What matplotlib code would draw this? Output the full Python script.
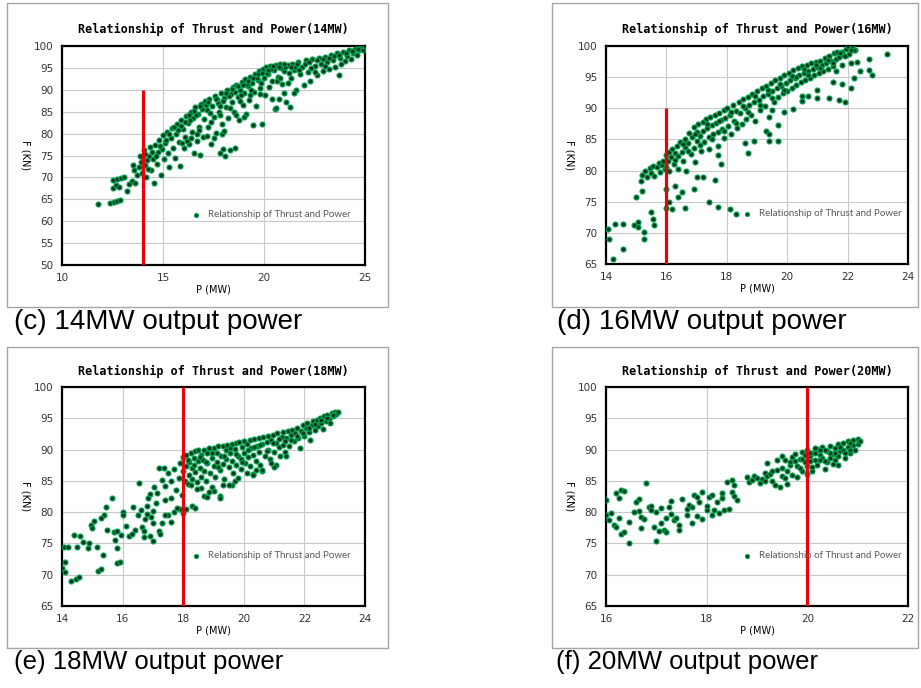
import matplotlib.pyplot as plt
import matplotlib.patches as mpatches
import numpy as np

# ---- data (P in MW, F in kN) ----
pts_14 = [
    (11.8, 64.0), (12.4, 64.2), (12.55, 64.4), (12.7, 64.6), (12.85, 64.9), (12.5, 67.6), (12.65, 68.2), (12.8, 67.8),
    (12.5, 69.3), (12.7, 69.6), (12.9, 69.9), (13.05, 70.0), (13.2, 67.0), (13.3, 68.4), (13.45, 69.2), (13.6, 68.8),
    (13.5, 72.9), (13.55, 71.6), (13.7, 70.5), (13.8, 72.4), (13.9, 73.6), (13.95, 71.0), (14.0, 74.5), (14.05, 76.2),
    (14.1, 72.8), (14.15, 70.2), (14.2, 73.9), (14.3, 75.0), (14.35, 76.9), (14.4, 71.7), (14.5, 74.2), (14.55, 68.8),
    (14.6, 77.5), (14.7, 73.1), (14.75, 75.8), (14.8, 78.6), (14.9, 70.6), (14.95, 76.5), (15.0, 79.6), (15.05, 74.3),
    (15.1, 77.8), (15.2, 80.4), (15.25, 75.5), (15.3, 72.3), (15.4, 78.9), (15.45, 81.2), (15.5, 76.8), (15.6, 74.4),
    (15.65, 80.0), (15.7, 82.1), (15.8, 78.0), (15.85, 72.6), (15.9, 83.0), (16.0, 81.0), (16.05, 76.6), (16.1, 79.3),
    (16.15, 84.0), (16.25, 82.5), (16.3, 77.7), (16.4, 85.0), (16.45, 80.4), (16.5, 83.6), (16.55, 75.6), (16.6, 86.0),
    (16.7, 78.3), (16.75, 84.5), (16.8, 81.6), (16.85, 75.2), (16.9, 86.8), (17.0, 79.2), (17.05, 83.3), (17.1, 87.4),
    (17.2, 85.3), (17.25, 81.5), (17.3, 88.0), (17.4, 77.6), (17.45, 86.2), (17.5, 83.7), (17.55, 88.6), (17.6, 80.2),
    (17.7, 87.0), (17.75, 85.0), (17.8, 75.5), (17.85, 89.3), (17.9, 82.3), (17.95, 76.4), (18.0, 88.2), (18.05, 74.9),
    (18.1, 86.0), (18.15, 90.0), (18.2, 83.6), (18.3, 76.3), (18.35, 89.0), (18.4, 87.2), (18.45, 90.7), (18.5, 85.0),
    (18.55, 76.7), (18.6, 91.2), (18.7, 88.3), (18.75, 83.2), (18.8, 90.0), (18.9, 91.8), (18.95, 86.5), (19.0, 89.2),
    (19.05, 92.4), (19.1, 84.5), (19.2, 90.8), (19.25, 87.7), (19.3, 93.0), (19.4, 91.5), (19.45, 82.0), (19.5, 89.6),
    (19.55, 93.6), (19.6, 86.4), (19.7, 92.2), (19.75, 94.2), (19.8, 90.3), (19.9, 82.3), (19.95, 94.7), (20.0, 92.8),
    (20.05, 88.8), (20.1, 95.1), (20.2, 93.5), (20.25, 90.6), (20.3, 95.4), (20.4, 91.9), (20.5, 94.5), (20.55, 85.7),
    (20.6, 95.7), (20.7, 93.0), (20.75, 87.8), (20.8, 95.9), (20.9, 91.3), (21.0, 94.2), (21.1, 87.2), (21.2, 95.6),
    (21.3, 86.0), (21.35, 92.7), (21.4, 96.0), (21.5, 94.6), (21.6, 90.0), (21.7, 96.4), (21.8, 93.5), (21.9, 95.3),
    (22.0, 91.2), (22.1, 96.8), (22.2, 94.0), (22.3, 92.0), (22.4, 97.0), (22.5, 95.4), (22.6, 93.4), (22.7, 97.3),
    (22.8, 95.9), (22.9, 94.2), (23.0, 97.6), (23.1, 96.3), (23.2, 94.8), (23.3, 98.0), (23.4, 96.8), (23.5, 95.2),
    (23.6, 98.3), (23.7, 93.3), (23.75, 97.2), (23.8, 95.8), (23.9, 98.6), (24.0, 96.6), (24.1, 97.8), (24.2, 99.0),
    (24.3, 97.0), (24.4, 98.3), (24.5, 99.3), (24.6, 97.9), (24.7, 99.0), (24.8, 99.6), (24.9, 99.2), (25.0, 100.0),
    (15.3, 80.0), (15.55, 81.5), (15.75, 80.8), (16.1, 82.6), (16.35, 83.2), (16.65, 84.3), (16.95, 85.6), (17.15, 86.5),
    (17.35, 84.6), (17.65, 88.0), (17.95, 87.4), (18.25, 88.6), (18.55, 89.4), (18.85, 88.7), (19.15, 91.3), (19.35, 89.9),
    (19.65, 92.8), (19.85, 91.6), (20.15, 93.9), (20.35, 94.7), (20.65, 92.1), (20.85, 94.9), (21.05, 95.3), (21.25, 93.8),
    (21.55, 95.1), (21.75, 94.6), (22.05, 96.0), (22.35, 95.0), (14.45, 75.9), (14.65, 74.9), (14.85, 77.2), (15.15, 78.5),
    (14.25, 72.0), (13.85, 74.8), (14.1, 75.3), (16.2, 78.2), (16.7, 80.0), (17.2, 79.5), (17.5, 79.0), (17.9, 79.8),
    (18.0, 80.5), (18.6, 84.3), (19.0, 83.7), (20.4, 88.0), (21.0, 89.2), (20.6, 85.8), (21.5, 89.3),
    (15.9, 81.8), (16.3, 84.2), (16.55, 85.2), (16.85, 86.2), (17.25, 87.2), (17.6, 87.8), (17.8, 86.4), (18.1, 89.2),
    (18.4, 90.1), (18.7, 90.8), (18.95, 91.0), (19.2, 92.1), (19.45, 92.7), (19.7, 93.5), (19.9, 93.9), (20.2, 94.6),
    (20.45, 95.4), (20.75, 95.2), (21.0, 95.8), (21.35, 95.2), (21.65, 96.0), (22.25, 96.3), (22.6, 96.7), (22.9, 97.0),
    (23.2, 97.3), (23.45, 97.8), (23.7, 98.0), (24.05, 98.3), (24.35, 98.8), (24.65, 99.4), (17.4, 82.6), (17.8, 84.2),
    (18.3, 85.8), (18.8, 87.4), (19.3, 88.7), (19.8, 89.0), (16.8, 80.8), (16.4, 79.0), (15.95, 77.8), (20.8, 92.8),
    (21.2, 91.5), (22.5, 94.0), (23.0, 95.5),
]

pts_16 = [
    (14.08, 70.6), (14.1, 69.0), (14.24, 65.8), (14.3, 71.5), (14.57, 71.5), (14.55, 67.4), (14.94, 71.2), (15.07, 71.7),
    (15.05, 71.0), (15.26, 70.2), (15.26, 69.0), (15.48, 73.3), (15.55, 72.3), (15.6, 71.3), (15.0, 75.7), (15.2, 76.8),
    (15.15, 78.3), (15.2, 79.3), (15.3, 79.9), (15.35, 79.0), (15.45, 80.4), (15.5, 79.6), (15.55, 80.8), (15.6, 79.2),
    (15.7, 80.6), (15.75, 81.2), (15.8, 79.8), (15.85, 80.9), (15.9, 81.5), (15.95, 80.2), (16.0, 82.5), (16.0, 80.6),
    (16.05, 81.6), (16.1, 83.0), (16.1, 80.0), (16.15, 82.1), (16.2, 83.4), (16.25, 81.0), (16.3, 82.8), (16.35, 84.0),
    (16.4, 80.3), (16.4, 82.4), (16.45, 84.6), (16.5, 83.0), (16.55, 81.5), (16.6, 85.1), (16.6, 83.8), (16.65, 80.0),
    (16.7, 84.5), (16.75, 86.0), (16.8, 82.6), (16.85, 85.4), (16.9, 87.0), (16.9, 83.6), (16.95, 81.4), (17.0, 86.2),
    (17.0, 84.8), (17.05, 87.5), (17.1, 85.6), (17.15, 83.2), (17.2, 87.8), (17.2, 86.3), (17.25, 84.6), (17.3, 88.2),
    (17.35, 86.9), (17.4, 85.4), (17.4, 83.5), (17.45, 88.6), (17.5, 87.3), (17.55, 85.9), (17.6, 88.9), (17.65, 87.6),
    (17.7, 86.2), (17.7, 84.0), (17.75, 89.3), (17.8, 88.1), (17.85, 86.7), (17.9, 89.8), (17.9, 85.2), (17.95, 88.5),
    (18.0, 90.1), (18.05, 87.2), (18.1, 89.0), (18.15, 85.8), (18.2, 90.5), (18.25, 88.0), (18.3, 89.6), (18.35, 86.8),
    (18.4, 91.0), (18.45, 89.2), (18.5, 87.5), (18.55, 91.5), (18.6, 90.0), (18.65, 88.3), (18.7, 91.8), (18.75, 90.6),
    (18.8, 89.0), (18.85, 92.3), (18.9, 91.0), (18.95, 88.0), (19.0, 92.7), (19.05, 91.4), (19.1, 89.8), (19.15, 93.2),
    (19.2, 91.9), (19.25, 90.4), (19.3, 93.6), (19.35, 92.3), (19.4, 88.6), (19.45, 94.0), (19.5, 92.8), (19.55, 91.0),
    (19.6, 94.5), (19.65, 93.3), (19.7, 91.8), (19.75, 94.9), (19.8, 93.6), (19.85, 92.4), (19.9, 95.3), (19.95, 94.0),
    (20.0, 92.7), (20.05, 95.7), (20.1, 94.5), (20.15, 93.3), (20.2, 96.1), (20.25, 94.9), (20.3, 93.8), (20.35, 96.5),
    (20.4, 95.3), (20.45, 94.2), (20.5, 96.8), (20.55, 95.7), (20.6, 94.6), (20.65, 97.0), (20.7, 96.0), (20.75, 94.9),
    (20.8, 97.3), (20.85, 96.3), (20.9, 95.4), (20.95, 97.5), (21.0, 96.6), (21.05, 95.7), (21.1, 97.6), (21.15, 96.9),
    (21.2, 96.0), (21.25, 98.0), (21.3, 97.2), (21.35, 96.3), (21.4, 98.4), (21.45, 97.6), (21.5, 96.8), (21.55, 98.8),
    (21.6, 97.9), (21.65, 99.1), (21.7, 98.3), (21.8, 99.0), (21.85, 98.5), (21.95, 99.5), (22.0, 100.0), (22.05, 98.7),
    (22.15, 99.8), (22.25, 99.4),
    (16.0, 77.0), (16.1, 75.0), (16.0, 74.0), (16.2, 73.8), (16.3, 77.5), (16.4, 75.7), (16.6, 74.0), (16.5, 76.5),
    (16.9, 77.0), (17.0, 79.0), (17.2, 79.0), (17.6, 78.5), (17.8, 81.0), (17.7, 82.5), (17.4, 75.0), (17.7, 74.2),
    (18.1, 73.9), (18.3, 73.1), (18.6, 84.5), (18.7, 82.8), (18.9, 84.8), (19.4, 84.8), (19.7, 84.8), (19.3, 86.3),
    (19.4, 85.8), (19.7, 87.3), (19.5, 89.8), (19.9, 89.4), (20.2, 89.9), (20.5, 91.1), (20.5, 92.0), (20.7, 92.0),
    (21.0, 91.7), (21.4, 91.6), (21.7, 91.3), (21.9, 91.0), (21.0, 92.9), (21.5, 94.2), (21.8, 93.9), (22.1, 93.3),
    (22.2, 94.8), (22.1, 97.3), (22.4, 96.0), (22.7, 97.9), (22.7, 96.1), (22.8, 95.3), (23.3, 98.7), (22.2, 99.3),
    (22.3, 97.5), (21.8, 97.0), (21.6, 96.0),
    (16.3, 81.7), (16.7, 83.1), (17.1, 84.1), (17.5, 85.0), (17.9, 86.4), (18.3, 87.6), (18.7, 89.4), (19.1, 90.5),
    (19.5, 91.7), (19.9, 93.0), (20.3, 95.0), (20.7, 95.4), (21.1, 96.4), (21.5, 97.3), (21.9, 98.4), (16.55, 84.2),
    (16.95, 85.9), (17.35, 87.5), (17.75, 88.0), (18.15, 89.4), (18.55, 90.4), (18.95, 91.9), (19.35, 93.0), (19.75, 93.9),
    (20.15, 95.2), (20.55, 96.3), (20.95, 96.9), (21.35, 97.8), (21.75, 98.9), (22.1, 99.3),
]

pts_18 = [
    (14.05, 74.5), (14.1, 72.0), (14.0, 71.0), (14.1, 70.5), (14.3, 69.0), (14.45, 69.3), (14.55, 69.6), (14.2, 74.4),
    (14.4, 76.3), (14.6, 76.2), (14.5, 74.5), (14.7, 75.3), (14.85, 74.3), (14.9, 75.0), (14.95, 78.0), (15.0, 77.5),
    (15.05, 78.6), (15.15, 74.5), (15.2, 70.6), (15.3, 70.9), (15.35, 73.1), (15.4, 79.5), (15.45, 80.9), (15.3, 79.0),
    (15.5, 77.2), (15.7, 76.8), (15.65, 82.3), (15.75, 75.5), (15.8, 77.0), (15.8, 74.3), (15.8, 71.9), (15.9, 72.0),
    (15.95, 76.3), (16.0, 80.0), (16.0, 79.5), (16.1, 77.8), (16.2, 76.2), (16.3, 76.5), (16.35, 80.9), (16.4, 77.1),
    (16.5, 79.6), (16.55, 84.6), (16.6, 80.3), (16.65, 77.7), (16.7, 76.1), (16.75, 78.9), (16.8, 81.0), (16.85, 82.3),
    (16.9, 76.2), (16.95, 79.3), (17.0, 75.4), (17.0, 78.2), (17.1, 81.5), (17.05, 84.0), (17.15, 83.0), (17.2, 77.0),
    (17.25, 76.5), (17.3, 85.2), (17.35, 87.0), (17.4, 84.2), (17.4, 82.0), (17.5, 79.5), (17.5, 86.3), (17.6, 84.9),
    (17.6, 78.5), (17.7, 80.0), (17.7, 86.9), (17.75, 83.5), (17.85, 85.4), (17.9, 87.8), (17.95, 82.7), (17.2, 87.0),
    (17.0, 80.2), (16.9, 82.9), (16.8, 79.7), (16.7, 77.0), (17.3, 78.2), (17.4, 79.5), (17.6, 82.2),
    (18.0, 88.8), (18.0, 86.5), (18.05, 85.0), (18.1, 89.2), (18.1, 87.4), (18.15, 84.5), (18.2, 88.0), (18.2, 86.0),
    (18.25, 89.5), (18.3, 87.0), (18.3, 85.3), (18.35, 88.6), (18.4, 89.7), (18.4, 86.4), (18.45, 84.8), (18.5, 88.1),
    (18.5, 89.9), (18.55, 87.0), (18.6, 85.6), (18.6, 89.2), (18.65, 88.3), (18.7, 90.0), (18.7, 86.6), (18.75, 85.0),
    (18.8, 89.4), (18.8, 87.8), (18.85, 90.2), (18.9, 86.2), (18.95, 88.6), (19.0, 90.3), (19.0, 87.4), (19.05, 85.6),
    (19.1, 89.5), (19.1, 88.0), (19.15, 90.5), (19.2, 86.8), (19.25, 89.0), (19.3, 90.6), (19.3, 87.7), (19.35, 85.3),
    (19.4, 89.9), (19.4, 88.5), (19.45, 90.8), (19.5, 87.2), (19.55, 89.4), (19.6, 90.9), (19.6, 88.2), (19.65, 86.2),
    (19.7, 90.1), (19.75, 91.0), (19.75, 87.6), (19.8, 89.0), (19.85, 91.2), (19.9, 88.5), (19.9, 86.9), (19.95, 90.4),
    (20.0, 91.3), (20.0, 89.5), (20.05, 87.9), (20.1, 90.9), (20.15, 88.8), (20.2, 91.5), (20.2, 87.3), (20.25, 90.2),
    (20.3, 89.1), (20.35, 91.7), (20.4, 88.2), (20.45, 90.6), (20.5, 91.8), (20.5, 89.6), (20.55, 87.6), (20.6, 90.9),
    (20.65, 92.0), (20.7, 88.9), (20.75, 91.2), (20.8, 92.2), (20.8, 90.0), (20.85, 88.5), (20.9, 91.5), (20.95, 92.4),
    (21.0, 89.6), (21.05, 91.0), (21.1, 92.6), (21.15, 90.4), (21.2, 88.9), (21.25, 92.0), (21.3, 92.8), (21.3, 90.8),
    (21.35, 89.6), (21.4, 91.9), (21.45, 93.0), (21.5, 90.5), (21.55, 92.4), (21.6, 93.2), (21.65, 91.3), (21.7, 92.7),
    (21.75, 93.5), (21.8, 91.8), (21.85, 90.3), (21.9, 93.0), (21.95, 93.9), (22.0, 92.2), (22.05, 93.5), (22.1, 94.2),
    (22.15, 92.8), (22.2, 91.6), (22.25, 94.0), (22.3, 94.5), (22.35, 93.2), (22.4, 94.8), (22.45, 93.8), (22.5, 95.0),
    (22.55, 94.2), (22.6, 93.3), (22.65, 95.3), (22.7, 94.6), (22.75, 95.6), (22.8, 94.9), (22.85, 94.2), (22.9, 95.8),
    (22.95, 95.3), (23.0, 96.0), (23.05, 95.7), (23.1, 96.0), (20.6, 86.5), (20.3, 86.1), (20.4, 86.8), (21.05, 87.6),
    (19.3, 84.3), (19.2, 82.6), (18.85, 83.2), (18.7, 82.6), (18.95, 84.0), (19.6, 84.4), (19.7, 85.0), (21.4, 89.0),
    (18.6, 83.8), (18.8, 82.5), (19.2, 82.3), (19.5, 84.4), (20.3, 86.0), (20.6, 86.8), (21.0, 87.2), (19.0, 83.3),
    (18.3, 81.0), (18.1, 80.5), (17.9, 80.5), (18.0, 79.9), (18.4, 80.6), (17.8, 80.7),
    (18.15, 88.3), (18.35, 87.5), (18.55, 88.8), (18.75, 88.0), (18.95, 89.5), (19.15, 87.2), (19.35, 89.0), (19.55, 90.2),
    (19.75, 89.3), (19.95, 88.0), (20.15, 90.0), (20.35, 90.4), (20.55, 90.7), (20.75, 89.8), (20.95, 91.0), (21.15, 91.7),
    (21.35, 91.3), (21.55, 91.6), (21.75, 92.2), (21.95, 92.6), (22.15, 93.5), (22.35, 94.1), (22.55, 94.7), (22.75, 95.0),
    (22.95, 95.6), (18.25, 84.4), (18.45, 83.7), (19.8, 85.5), (20.1, 86.2), (20.9, 87.9),
]

pts_20 = [
    (16.0, 82.0), (16.0, 79.6), (16.05, 78.8), (16.1, 79.9), (16.15, 78.0), (16.2, 77.6), (16.2, 83.1), (16.25, 82.3),
    (16.3, 83.6), (16.35, 83.4), (16.25, 79.0), (16.3, 76.5), (16.35, 76.8), (16.45, 75.0), (16.45, 78.5), (16.65, 82.1),
    (16.65, 80.2), (16.7, 79.3), (16.7, 77.4), (16.75, 78.9), (16.8, 84.7), (16.85, 80.8), (16.9, 81.0), (16.9, 80.4),
    (16.95, 77.7), (17.0, 80.0), (17.1, 80.6), (17.1, 78.3), (17.15, 77.2), (17.2, 76.9), (17.0, 75.4), (17.05, 77.0),
    (17.25, 80.9), (17.3, 81.8), (17.3, 79.7), (17.35, 78.8), (17.45, 78.0), (17.45, 77.1), (17.5, 82.1), (17.6, 80.5),
    (17.6, 79.6), (17.65, 81.2), (17.7, 80.9), (17.7, 78.2), (17.75, 82.8), (17.8, 82.5), (17.8, 79.4), (17.85, 81.6),
    (17.9, 83.2), (17.9, 78.9), (18.0, 80.3), (18.0, 81.0), (18.05, 82.5), (18.1, 79.5), (18.1, 82.7), (18.15, 80.4),
    (18.2, 81.6), (18.25, 79.9), (18.3, 83.0), (18.3, 82.3), (18.35, 80.3), (18.4, 84.8), (18.45, 80.5), (18.5, 85.2),
    (18.5, 83.2), (18.55, 82.6), (18.6, 82.0), (18.55, 84.4), (17.4, 79.1), (17.2, 79.0), (16.55, 80.0), (16.6, 81.6),
    (18.8, 85.6), (18.85, 84.8), (18.9, 85.2), (18.95, 85.7), (19.0, 85.4), (19.05, 84.6), (19.1, 85.3), (19.15, 86.2),
    (19.2, 85.8), (19.2, 87.8), (19.25, 86.1), (19.3, 85.0), (19.35, 84.3), (19.4, 86.7), (19.4, 88.3), (19.45, 84.0),
    (19.5, 85.7), (19.5, 87.1), (19.5, 89.0), (19.55, 88.3), (19.6, 86.5), (19.6, 84.5), (19.65, 87.5), (19.7, 88.8),
    (19.7, 86.0), (19.75, 89.3), (19.8, 87.3), (19.8, 85.6), (19.85, 88.5), (19.9, 89.6), (19.9, 86.6), (19.95, 88.0),
    (20.0, 89.9), (20.0, 87.4), (20.0, 86.1), (20.05, 88.9), (20.1, 89.5), (20.1, 86.5), (20.15, 88.3), (20.2, 90.1),
    (20.2, 87.6), (20.25, 89.2), (20.3, 90.4), (20.3, 88.6), (20.35, 86.9), (20.4, 89.8), (20.4, 88.0), (20.45, 90.6),
    (20.5, 89.3), (20.5, 87.7), (20.55, 90.2), (20.6, 90.9), (20.6, 88.9), (20.65, 89.8), (20.7, 91.1), (20.7, 90.0),
    (20.75, 88.6), (20.8, 91.3), (20.8, 90.4), (20.85, 89.5), (20.9, 91.6), (20.9, 90.8), (20.95, 89.9), (21.0, 91.7),
    (21.0, 90.9), (19.95, 89.1), (20.15, 89.4), (20.35, 89.9), (20.55, 89.4), (20.05, 88.1), (20.25, 88.4), (19.85, 87.1),
    (19.65, 88.0), (20.45, 88.7), (20.75, 89.4), (20.85, 90.0), (21.05, 91.3), (20.15, 90.3), (19.75, 88.1), (19.55, 85.5),
    (19.3, 86.5), (19.15, 84.9),
    (20.05, 89.4), (20.25, 90.0), (20.45, 89.4), (20.65, 90.4), (20.85, 91.0), (20.35, 88.2), (20.55, 88.3), (19.9, 88.5),
    (20.1, 87.2), (20.6, 87.5),
]

panels = [
    # title, points, x limits, x ticks, y limits, red line x, red line top, caption
    ("Relationship of Thrust and Power(14MW)", pts_14, (10, 25), [10, 15, 20, 25], (50, 100), 14, 90, "(c) 14MW output power"),
    ("Relationship of Thrust and Power(16MW)", pts_16, (14, 24), [14, 16, 18, 20, 22, 24], (65, 100), 16, 90, "(d) 16MW output power"),
    ("Relationship of Thrust and Power(18MW)", pts_18, (14, 24), [14, 16, 18, 20, 22, 24], (65, 100), 18, 100, "(e) 18MW output power"),
    ("Relationship of Thrust and Power(20MW)", pts_20, (16, 22), [16, 18, 20, 22], (65, 100), 20, 100, "(f) 20MW output power"),
]

W, H = 921, 688
# axes boxes in pixels: left, top, right, bottom
ax_px = [(62, 46, 365, 265), (606, 46, 908, 264), (62, 387, 365, 606), (606, 387, 908, 606)]
box_px = [(7, 3, 388, 307), (552, 3, 918, 307), (7, 347, 388, 648), (552, 347, 918, 648)]
cap_px = [(14, 322), (557, 322), (14, 662), (556, 662)]
cap_size = [20, 20, 18.5, 18.5]
leg_x = [0.38, 0.405, 0.38, 0.405]

fig = plt.figure(figsize=(W / 100, H / 100), dpi=100)

for i, (title, pts, xl, xt, yl, rx, rtop, cap) in enumerate(panels):
    bx0, by0, bx1, by1 = box_px[i]
    fig.patches.append(mpatches.Rectangle((bx0 / W, 1 - by1 / H), (bx1 - bx0) / W, (by1 - by0) / H,
                                          transform=fig.transFigure, fill=False, edgecolor="#a6a6a6", lw=1))
    l, t, r, b = ax_px[i]
    ax = fig.add_axes([l / W, 1 - b / H, (r - l) / W, (b - t) / H])
    pts = np.array(pts)
    ax.scatter(pts[:, 0], pts[:, 1], s=13, facecolor="#0b3b1e", edgecolor="#00a650", linewidths=0.8,
               label="Relationship of Thrust and Power", zorder=3)
    ax.vlines(rx, yl[0], rtop, color="#e8000b", lw=2.3, zorder=4)
    ax.set_xlim(*xl)
    ax.set_ylim(*yl)
    ax.set_xticks(xt)
    ax.set_yticks(np.arange(yl[0], yl[1] + 1, 5))
    ax.grid(True, color="#c8c8c8", lw=0.8)
    ax.set_axisbelow(True)
    ax.tick_params(length=0, labelsize=7.5, pad=6, colors="#333333")
    for sp in ax.spines.values():
        sp.set_linewidth(1.6)
        sp.set_color("black")
    ax.set_title(title, fontfamily="DejaVu Sans Mono", fontweight="bold", fontsize=8.5, pad=9)
    ax.set_xlabel("P (MW)", fontsize=7, labelpad=1)
    ax.set_ylabel("F (KN)", fontsize=7, rotation=270, labelpad=10)
    leg = ax.legend(loc="center left", bbox_to_anchor=(leg_x[i], 0.23), frameon=False,
                    handletextpad=0.3, markerscale=0.8, prop={"family": "Lato", "size": 7})
    for txt in leg.get_texts():
        txt.set_color("#595959")
    fig.text(cap_px[i][0] / W, 1 - cap_px[i][1] / H, cap, fontsize=cap_size[i], fontfamily="Liberation Sans",
             va="center", ha="left")

fig.savefig("out.png", dpi=100)
